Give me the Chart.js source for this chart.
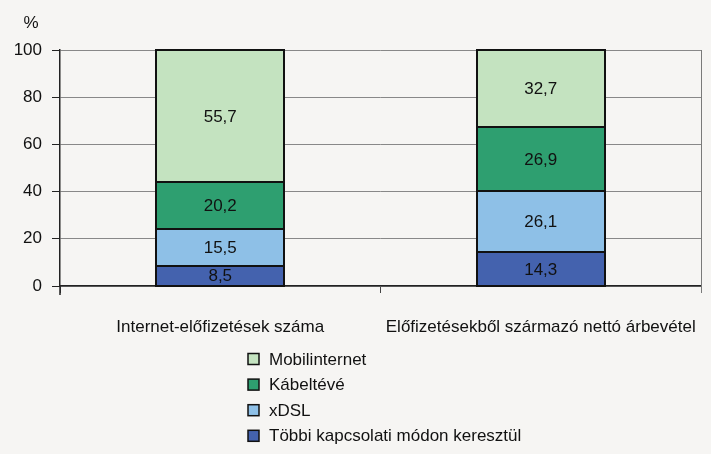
<!DOCTYPE html>
<html>
<head>
<meta charset="utf-8">
<script src="https://cdn.jsdelivr.net/npm/chart.js@4.4.1/dist/chart.umd.min.js"></script>
<style>
  html, body { margin: 0; padding: 0; background: #F6F5F3; }
  #wrap { position: relative; width: 711px; height: 454px; }
</style>
</head>
<body>
<div id="wrap"><canvas id="c" width="711" height="454"></canvas></div>
<script>
const categories = ["Internet-előfizetések száma", "Előfizetésekből származó nettó árbevétel"];
const seriesNames = ["Többi kapcsolati módon keresztül", "xDSL", "Kábeltévé", "Mobilinternet"];
const tobbi = [8.5, 14.3];
const xdsl = [15.5, 26.1];
const kabeltv = [20.2, 26.9];
const mobil = [55.7, 32.7];
const seriesColors = ["#4462AE", "#8EC0E7", "#2E9F70", "#C4E3C0"];
const yTicks = [0, 20, 40, 60, 80, 100];

const FONT = "'Liberation Sans', Arial, sans-serif";
const FS = 17;

const valuesList = [tobbi, xdsl, kabeltv, mobil];
const datasets = seriesNames.map((n, i) => ({
  label: n,
  data: valuesList[i],
  backgroundColor: seriesColors[i],
  borderWidth: 0,
  barPercentage: 0.4,
  categoryPercentage: 1.0
}));

const extras = {
  id: "extras",
  afterDatasetsDraw(chart) {
    const ctx = chart.ctx;
    ctx.save();
    // bar outlines (shared 2px edges between stacked segments)
    ctx.strokeStyle = "#111";
    ctx.lineWidth = 2;
    chart.data.datasets.forEach((ds, di) => {
      const meta = chart.getDatasetMeta(di);
      meta.data.forEach((bar) => {
        const x0 = Math.round(bar.x - bar.width / 2);
        const x1 = Math.round(bar.x + bar.width / 2);
        const y0 = Math.round(bar.y);
        const y1 = Math.round(bar.base);
        ctx.strokeRect(x0, y0, x1 - x0, y1 - y0);
      });
    });
    // value labels
    ctx.font = FS + "px " + FONT;
    ctx.fillStyle = "#111";
    ctx.textAlign = "center";
    ctx.textBaseline = "middle";
    chart.data.datasets.forEach((ds, di) => {
      const meta = chart.getDatasetMeta(di);
      meta.data.forEach((bar, i) => {
        const y = (bar.y + bar.base) / 2;
        ctx.fillText(String(ds.data[i]).replace(".", ","), bar.x, y + 1);
      });
    });
    // right border line
    const a = chart.chartArea;
    ctx.strokeStyle = "#7a7a7a";
    ctx.lineWidth = 1;
    ctx.beginPath();
    ctx.moveTo(Math.round(a.right) + 0.5, a.top);
    ctx.lineTo(Math.round(a.right) + 0.5, a.bottom + 7);
    ctx.stroke();
    // y axis extension below zero
    ctx.strokeStyle = "#222";
    ctx.lineWidth = 1.5;
    ctx.beginPath();
    ctx.moveTo(a.left, a.bottom);
    ctx.lineTo(a.left, a.bottom + 9);
    ctx.stroke();
    // % label
    ctx.fillStyle = "#111";
    ctx.font = FS + "px " + FONT;
    ctx.textAlign = "center";
    ctx.textBaseline = "middle";
    ctx.fillText("%", 31, 23);
    // legend
    const lx = 248, ly0 = 359, step = 25.6;
    ctx.textAlign = "left";
    const order = [3, 2, 1, 0];
    order.forEach((di, k) => {
      const ds = chart.data.datasets[di];
      const y = ly0 + k * step;
      ctx.fillStyle = ds.backgroundColor;
      ctx.fillRect(lx, y - 5.5, 11, 11);
      ctx.strokeStyle = "#111";
      ctx.lineWidth = 1.5;
      ctx.strokeRect(lx, y - 5.5, 11, 11);
      ctx.fillStyle = "#111";
      ctx.fillText(ds.label, lx + 21, y + 1);
    });
    ctx.restore();
  }
};

new Chart(document.getElementById("c"), {
  type: "bar",
  data: { labels: categories, datasets },
  plugins: [extras],
  options: {
    responsive: false,
    animation: false,
    layout: { padding: { top: 50, right: 10, left: 0, bottom: 0 } },
    plugins: { legend: { display: false }, tooltip: { enabled: false } },
    scales: {
      x: {
        stacked: true,
        grid: { display: true, drawOnChartArea: false, offset: true, tickLength: 7, color: "#444" },
        border: { display: true, color: "#222", width: 1.5 },
        ticks: { padding: 24, color: "#111", font: { family: FONT, size: FS } },
        afterFit(s) { s.height = 168; s.paddingLeft = 0; s.paddingRight = 0; }
      },
      y: {
        stacked: true,
        min: 0, max: 100,
        afterBuildTicks(s) { s.ticks = yTicks.map(v => ({ value: v })); },
        grid: { color: "#888", tickLength: 8, tickColor: "#222" },
        border: { display: true, color: "#222", width: 1.5 },
        ticks: { padding: 10, color: "#111", font: { family: FONT, size: FS } },
        afterFit(s) { s.width = 60; }
      }
    }
  }
});
</script>
</body>
</html>
